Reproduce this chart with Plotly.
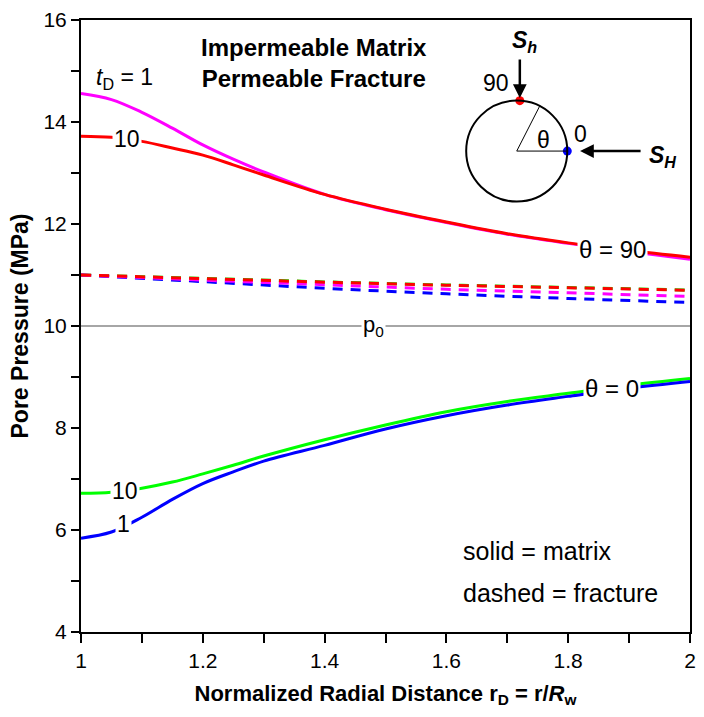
import plotly.graph_objects as go
import numpy as np

# Normalized radial distance r_D = r / R_w
r_d = [1.0, 1.05, 1.1, 1.15, 1.2, 1.25, 1.3, 1.4, 1.5, 1.6, 1.7, 1.8, 1.9, 2.0]

# Matrix pore pressure (MPa), solid curves
p_t1_th90 = [14.56, 14.44, 14.19, 13.88, 13.55, 13.27, 13.02, 12.58, 12.28, 12.03, 11.80, 11.62, 11.46, 11.31]
p_t10_th90 = [13.72, 13.70, 13.62, 13.49, 13.35, 13.16, 12.96, 12.58, 12.29, 12.04, 11.81, 11.63, 11.48, 11.35]
p_t1_th0 = [5.84, 5.96, 6.25, 6.60, 6.91, 7.14, 7.35, 7.66, 7.98, 8.24, 8.45, 8.62, 8.78, 8.91]
p_t10_th0 = [6.72, 6.74, 6.82, 6.94, 7.10, 7.27, 7.45, 7.77, 8.06, 8.32, 8.52, 8.68, 8.84, 8.97]

# Fracture pore pressure (MPa), dashed curves
r_d_frac = [1.0, 1.2, 1.4, 1.6, 1.8, 2.0]
pf_t10_th0 = [11.0, 10.935, 10.865, 10.805, 10.755, 10.705]
pf_t10_th90 = [11.0, 10.93, 10.86, 10.80, 10.75, 10.70]
pf_t1_th90 = [11.0, 10.90, 10.81, 10.72, 10.65, 10.58]
pf_t1_th0 = [11.0, 10.87, 10.74, 10.63, 10.54, 10.46]

# Initial pore pressure p0
p0 = 10.0

x_ticks = [1, 1.2, 1.4, 1.6, 1.8, 2]
x_tick_text = ["1", "1.2", "1.4", "1.6", "1.8", "2"]
y_ticks = [4, 6, 8, 10, 12, 14, 16]
y_tick_text = ["4", "6", "8", "10", "12", "14", "16"]

FONT = "Liberation Sans, Arial, sans-serif"
MAGENTA, RED, BLUE, GREEN = "#ff00ff", "#ff0000", "#0000ff", "#00ff00"

fig = go.Figure()

# p0 reference line
fig.add_trace(go.Scatter(x=[r_d[0], r_d[-1]], y=[p0, p0], mode="lines",
                         line=dict(color="#a6a6a6", width=2), hoverinfo="skip"))

# fracture curves
dash = "10px,8px"
for ys, col in [(pf_t10_th0, GREEN), (pf_t1_th0, BLUE), (pf_t1_th90, MAGENTA), (pf_t10_th90, RED)]:
    fig.add_trace(go.Scatter(x=r_d_frac, y=ys, mode="lines", line_shape="spline",
                             line=dict(color=col, width=3, dash=dash)))

# matrix curves
for ys, col in [(p_t1_th90, MAGENTA), (p_t10_th90, RED), (p_t10_th0, GREEN), (p_t1_th0, BLUE)]:
    fig.add_trace(go.Scatter(x=r_d, y=ys, mode="lines", line_shape="spline",
                             line=dict(color=col, width=3)))

# borehole sketch (in data units)
cx, cy, rx, ry = 1.7155, 13.43, 0.083, 0.99
fig.add_shape(type="circle", x0=cx - rx, x1=cx + rx, y0=cy - ry, y1=cy + ry,
              line=dict(color="black", width=2))
ang = np.deg2rad(63)
fig.add_shape(type="line", x0=cx, y0=cy, x1=cx + rx * np.cos(ang), y1=cy + ry * np.sin(ang),
              line=dict(color="black", width=1))
fig.add_shape(type="line", x0=cx, y0=cy, x1=cx + rx, y1=cy, line=dict(color="black", width=1))
a90 = np.deg2rad(86.5)
fig.add_trace(go.Scatter(x=[cx + rx * np.cos(a90), cx + rx], y=[cy + ry * np.sin(a90), cy],
                         mode="markers", marker=dict(color=[RED, BLUE], size=9)))

annos = []


def txt(x, y, s, size=22, bold=False, bg=None, xanchor="center"):
    annos.append(dict(x=x, y=y, text=f"<b>{s}</b>" if bold else s, showarrow=False,
                      xanchor=xanchor, yanchor="middle",
                      font=dict(family=FONT, size=size, color="black"),
                      bgcolor=bg, borderpad=1))


# stress arrows
annos.append(dict(x=cx + rx * np.cos(a90), y=cy + ry + 0.05, ax=0, ay=-40, text="",
                  showarrow=True, arrowhead=2, arrowsize=1.1, arrowwidth=2.5, arrowcolor="black"))
annos.append(dict(x=1.8195, y=cy, ax=62, ay=0, text="", showarrow=True,
                  arrowhead=2, arrowsize=1.1, arrowwidth=2.5, arrowcolor="black"))
txt(1.728, 15.58, "<i>S<sub>h</sub></i>", size=23, bold=True)
txt(1.955, 13.33, "<i>S<sub>H</sub></i>", size=23, bold=True)
txt(1.681, 14.77, "90", size=23)
txt(1.820, 13.77, "0", size=23)
txt(1.759, 13.64, "θ", size=23)

# heading
txt(1.382, 15.16, "Impermeable Matrix<br>Permeable Fracture", size=24, bold=True)
txt(1.072, 14.86, "<i>t</i><sub>D</sub> = 1", size=23)

# curve labels
txt(1.075, 13.66, "10", size=23, bg="white")
txt(1.873, 11.50, "θ = 90", size=24, bg="white")
txt(1.872, 8.77, "θ = 0", size=24, bg="white")
txt(1.073, 6.77, "10", size=23, bg="white")
txt(1.069, 6.12, "1", size=23, bg="white")
txt(1.48, 10.0, "p<sub>0</sub>", size=22, bg="white")

# line-style key
txt(1.624, 5.59, "solid = matrix", size=25, xanchor="left")
txt(1.624, 4.77, "dashed = fracture", size=25, xanchor="left")

fig.update_layout(
    width=704, height=717,
    margin=dict(l=81, r=8, t=16, b=85),
    paper_bgcolor="white", plot_bgcolor="white",
    showlegend=False,
    font=dict(family=FONT, size=20, color="black"),
    annotations=annos,
    xaxis=dict(range=[1, 2], tickvals=x_ticks, ticktext=x_tick_text,
               ticks="outside", ticklen=9, tickwidth=2, tickcolor="black",
               minor=dict(dtick=0.1, ticks="outside", ticklen=9, tickwidth=2, tickcolor="black"),
               showline=True, linecolor="black", linewidth=2, mirror=True,
               showgrid=False, zeroline=False,
               tickfont=dict(size=21),
               title=dict(text="<b>Normalized Radial Distance r<sub>D</sub> = r/<i>R</i><sub>w</sub></b>",
                          font=dict(size=22), standoff=14)),
    yaxis=dict(range=[4, 16], tickvals=y_ticks, ticktext=y_tick_text,
               ticks="outside", ticklen=8, tickwidth=2, tickcolor="black",
               minor=dict(dtick=1, ticks="outside", ticklen=8, tickwidth=2, tickcolor="black"),
               showline=True, linecolor="black", linewidth=2, mirror=True,
               showgrid=False, zeroline=False,
               tickfont=dict(size=21),
               title=dict(text="<b>Pore Pressure (MPa)</b>", font=dict(size=23), standoff=8)),
    yaxis2=dict(range=[4, 16], overlaying="y", side="right", tickvals=y_ticks,
                showticklabels=False, ticks="inside", ticklen=8, tickwidth=2, tickcolor="black",
                minor=dict(dtick=1, ticks="inside", ticklen=8, tickwidth=2, tickcolor="black"),
                showline=True, linecolor="black", linewidth=2, showgrid=False, zeroline=False),
)

fig.write_html("out.html")
